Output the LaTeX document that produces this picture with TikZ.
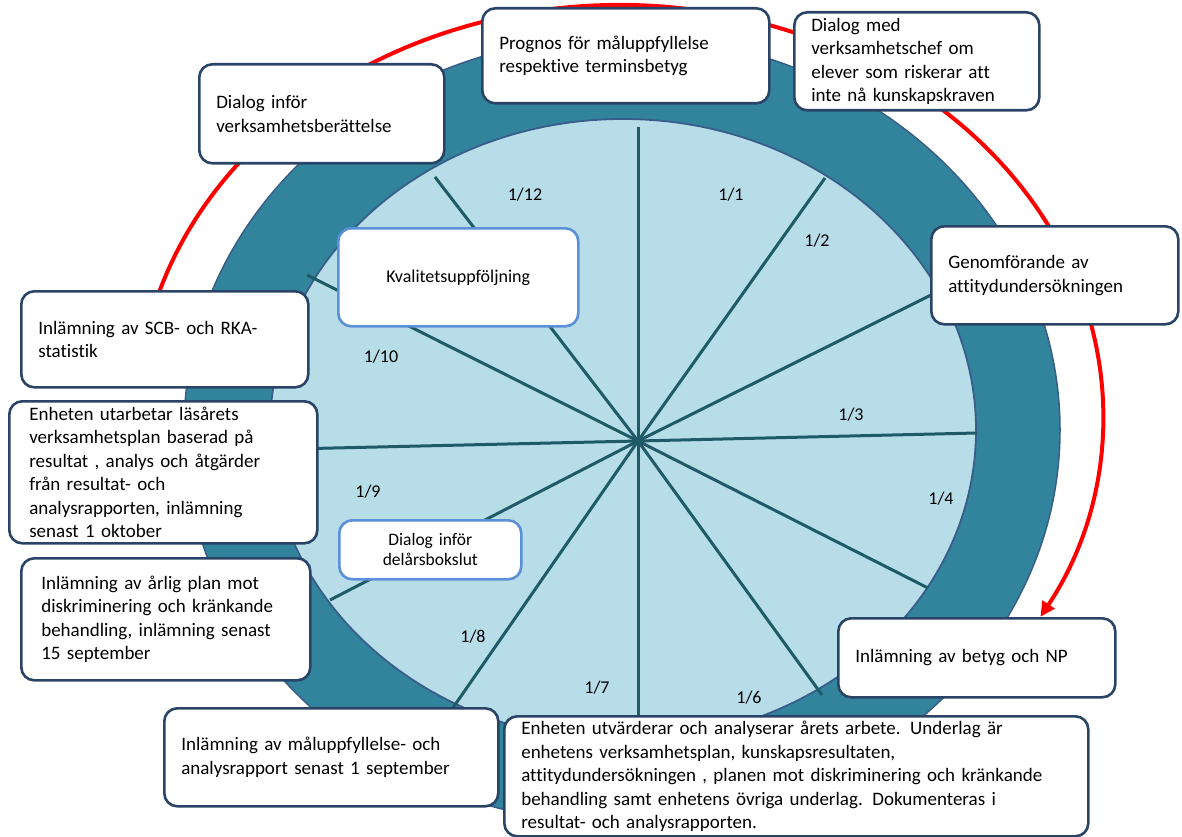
\documentclass[tikz,border=0pt]{standalone}
\usepackage{fontspec}
\setmainfont{Carlito}[Ligatures={NoCommon}]
\usetikzlibrary{arrows.meta}
\definecolor{ringdark}{HTML}{31849B}
\definecolor{ringlight}{HTML}{B7DDE8}
\definecolor{ringedge}{HTML}{385D8A}
\definecolor{spokecol}{HTML}{1F5A67}
\definecolor{boxedge}{HTML}{2A4468}
\definecolor{boxblue}{HTML}{5B8FD8}
\tikzset{
	evbox/.style={draw=boxedge, line width=2.6pt, fill=white, rounded corners=13pt, anchor=north west, align=left, inner xsep=17pt, inner ysep=1pt, font=\fontsize{19}{23.5}\selectfont},
	qbox/.style={evbox, draw=boxblue, align=center},
	month/.style={font=\fontsize{18}{20}\selectfont},
	spokeline/.style={line width=3pt, color=spokecol},
	cyclearrow/.style={line width=4pt, color=red, -{Triangle[length=15pt,width=14pt]}},
}

\begin{document}
\begin{tikzpicture}[x=1pt, y=-1pt]
		%%%%% START %%%%%
		\useasboundingbox (0,0) rectangle (1182,837);
		
		\draw[cyclearrow] (620,415) ++(193:483 and 410) arc[start angle=193, end angle=389.5, x radius=483, y radius=410];
		
		\draw[ringedge, line width=1.5pt, fill=ringdark] (622,430) ellipse [x radius=438, y radius=394];
		\draw[ringedge, line width=1.8pt, fill=ringlight] (623,430) ellipse [x radius=353, y radius=311];
		
		\coordinate (hub) at (638,441);
		\foreach \ex/\ey in {638/127, 825/178, 935/293, 977/433, 928/588, 822/695, 638/740, 450/712, 330/600, 290/449, 307/275, 435/177}
			\draw[spokeline] (hub) -- (\ex,\ey);
		
		\node[month] (m12) at (525,195) {1/12};
		\node[month] (m1) at (731,195) {1/1};
		\node[month] (m2) at (817,241) {1/2};
		\node[month] (m3) at (851,415) {1/3};
		\node[month] (m4) at (941,499) {1/4};
		\node[month] (m6) at (749,698) {1/6};
		\node[month] (m7) at (597,688) {1/7};
		\node[month] (m8) at (473,637) {1/8};
		\node[month] (m9) at (368,492) {1/9};
		\node[month] (m10) at (381,357) {1/10};
		
		\node[evbox, text width=253pt, minimum height=95pt] (prognos) at (481,7) {Prognos för måluppfyllelse\\respektive terminsbetyg};
		\node[evbox, text width=211pt, minimum height=98pt] (dialogmed) at (793,11) {Dialog med\\verksamhetschef om\\elever som riskerar att\\inte nå kunskapskraven};
		\node[evbox, text width=211pt, minimum height=99pt] (dialogvb) at (198,63) {Dialog inför\\verksamhetsberättelse};
		\node[qbox, text width=206pt, minimum height=98pt, font=\fontsize{18}{22}\selectfont] (kvalitet) at (337,227) {Kvalitetsuppföljning};
		\node[evbox, text width=213pt, minimum height=98pt] (attityd) at (930,225) {Genomförande av\\attitydundersökningen};
		\node[evbox, text width=253pt, minimum height=96pt] (scb) at (20,290) {Inlämning av SCB- och RKA-\\statistik};
		\node[evbox, inner xsep=20pt, text width=268pt, minimum height=142pt] (lasplan) at (8,400) {Enheten utarbetar läsårets\\verksamhetsplan baserad på\\resultat , analys och åtgärder\\från resultat- och\\analysrapporten, inlämning\\senast 1 oktober};
		\node[qbox, text width=148pt, minimum height=59pt, font=\fontsize{17.5}{20}\selectfont] (delar) at (338,519) {Dialog inför\\delårsbokslut};
		\node[evbox, inner xsep=20pt, text width=249pt, minimum height=122pt] (arlig) at (20,557) {Inlämning av årlig plan mot\\diskriminering och kränkande\\behandling, inlämning senast\\15 september};
		\node[evbox, text width=243pt, minimum height=79pt] (betyg) at (837,617) {Inlämning av betyg och NP};
		\node[evbox, text width=300pt, minimum height=98pt] (malupp) at (163,707) {Inlämning av måluppfyllelse- och\\analysrapport senast 1 september};
		\node[evbox, text width=550pt, minimum height=120pt] (utvard) at (503,715) {Enheten utvärderar och analyserar årets arbete. Underlag är\\enhetens verksamhetsplan, kunskapsresultaten,\\attitydundersökningen , planen mot diskriminering och kränkande\\behandling samt enhetens övriga underlag. Dokumenteras i\\resultat- och analysrapporten.};
		
		%%%%% END %%%%%
	\end{tikzpicture}
\end{document}
